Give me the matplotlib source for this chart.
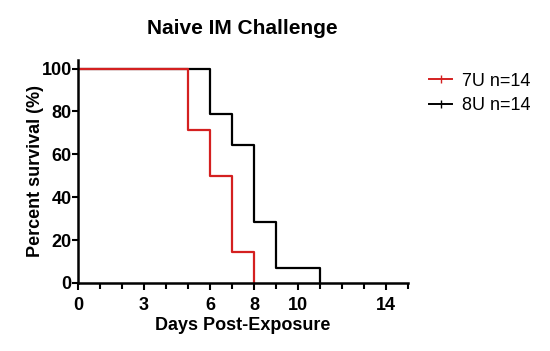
import matplotlib.pyplot as plt
from matplotlib.lines import Line2D

plt.rcParams['font.family'] = ['Liberation Sans', 'DejaVu Sans']

# survival data (Kaplan-Meier steps)
days_7u = [0, 5, 6, 7, 8]
surv_7u = [100, 71.4, 50, 14.3, 0]
days_8u = [0, 6, 7, 8, 9, 11]
surv_8u = [100, 78.6, 64.3, 28.6, 7.1, 0]

labels = ['7U n=14', '8U n=14']
colors = ['#d42020', 'black']
xticks = [0, 3, 6, 8, 10, 14]
yticks = [0, 20, 40, 60, 80, 100]

fig = plt.figure(figsize=(5.5, 3.51), dpi=100)
ax = fig.add_axes([0.142, 0.194, 0.6, 0.635])

ax.step(days_8u, surv_8u, where='post', color=colors[1], lw=1.6)
ax.step(days_7u, surv_7u, where='post', color=colors[0], lw=1.6)

ax.set_xlim(0, 15)
ax.set_ylim(0, 104)
ax.set_xticks(xticks)
ax.set_xticks(range(0, 16), minor=True)
ax.set_yticks(yticks)
ax.tick_params(axis='y', which='major', length=4, width=1.5, labelsize=13, pad=0.5)
ax.tick_params(axis='x', which='major', length=5, width=1.5, labelsize=13, pad=5)
ax.tick_params(axis='x', which='minor', length=4, width=1.5)
for lbl in ax.get_xticklabels() + ax.get_yticklabels():
    lbl.set_fontweight('bold')

for s in ['top', 'right']:
    ax.spines[s].set_visible(False)
for s in ['left', 'bottom']:
    ax.spines[s].set_linewidth(1.8)

ax.set_xlabel('Days Post-Exposure', fontsize=13, fontweight='bold', labelpad=2.5)
ax.set_ylabel('Percent survival (%)', fontsize=13, fontweight='bold', labelpad=-2)
fig.text(0.44, 0.918, 'Naive IM Challenge', fontsize=15, fontweight='bold',
         ha='center', va='center')

handles = [Line2D([0, 0.5, 1], [0, 0, 0], color=c, lw=1.4, marker='|',
                  markersize=6, markevery=[1]) for c in colors]
fig.legend(handles=handles, labels=labels, loc='upper left',
           bbox_to_anchor=(0.78, 0.793), frameon=False, fontsize=13,
           handlelength=1.3, handletextpad=0.55, labelspacing=0.4,
           borderpad=0, borderaxespad=0)

fig.savefig('out.png', dpi=100)
